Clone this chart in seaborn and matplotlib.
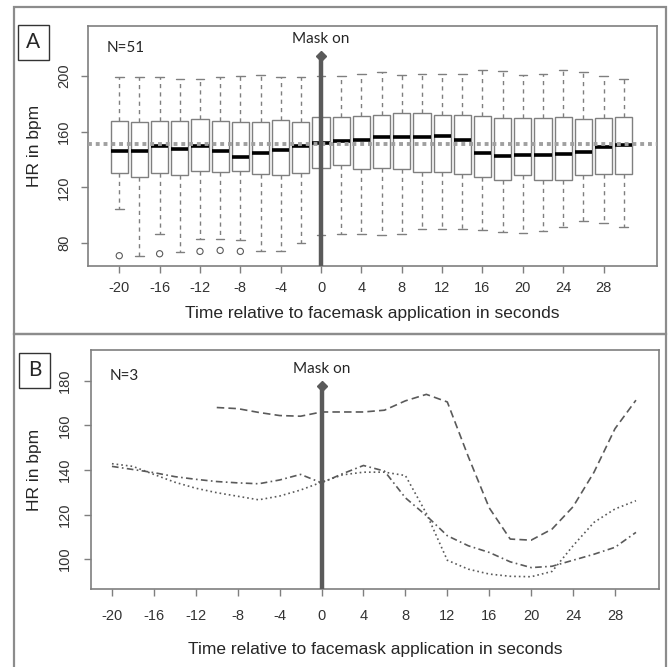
import numpy as np
import pandas as pd
import seaborn as sns
import matplotlib.pyplot as plt
from matplotlib.patches import Rectangle

# ---- panel A: HR box summaries every 2 s ----
times_a = list(range(-20, 31, 2))
whisk_hi = [199, 199, 199, 197.8, 197.8, 199, 199.8, 200.7, 199, 199.5, 200,
            200, 201.2, 203, 200.7, 201.7, 201.2, 201.4, 204.3, 203.6, 201,
            201.2, 204.3, 203, 200, 197.6]
q3 = [167.4, 167, 167.4, 168, 169, 168, 167.2, 166.7, 168.4, 167.2, 170.5,
      170.5, 171, 172, 173.4, 173.7, 172.2, 171.7, 171, 170, 170,
      170, 170.3, 169.3, 169.8, 170.8]
medians = [145.9, 145.9, 149.5, 147.3, 150, 146, 142, 144.7, 146.6, 149.5, 151.9,
           153.3, 154.3, 156.2, 156.4, 156.4, 156.7, 153.8, 144.4, 142.8, 143.2,
           143.2, 143.7, 145.2, 148.7, 150.2]
q1 = [130.3, 127.2, 130, 129.1, 131.5, 131, 132, 129.8, 128.9, 130.5, 133.9,
      135.8, 133.4, 133.9, 132.9, 131, 131.3, 129.6, 127.2, 125.5, 128.9,
      125.5, 125, 128.9, 129.3, 129.8]
whisk_lo = [104.4, 71, 86.5, 73.3, 82.9, 82.9, 82.4, 74.5, 74.5, 80.2, 86,
            86.5, 86.5, 85.8, 86.5, 89.8, 90.3, 90.3, 89.1, 87.7, 87,
            88.9, 91.5, 96, 94.4, 91.5]
outlier_t = [-20, -16, -12, -10, -8]
outlier_hr = [70.9, 72.3, 74, 74.7, 74]
overall_mean = 151.1

# ---- panel B: three individual traces ----
times_b = list(range(-20, 31, 2))
hr_dashed = [np.nan] * 5 + [168, 167.5, 165.8, 164.4, 164.1, 166, 166, 166, 166.8,
                            171, 173.9, 170.5, 146, 123, 109, 108.5, 113.5, 123.5,
                            139, 158.5, 171.3]
hr_dashdot = [141.6, 140.2, 138.8, 137, 135.8, 134.8, 134.2, 133.8, 135.5, 138,
              134.2, 138.3, 142, 139.5, 127.5, 119.5, 110.5, 106, 103, 98.8,
              96.2, 96.8, 99.5, 102.2, 105.3, 112]
hr_dotted = [142.8, 141.6, 138, 134.5, 131.8, 129.8, 128.2, 126.6, 128.3, 131,
             134.5, 137.8, 139, 139, 137.5, 120.5, 99.5, 95.5, 93.3, 92.3,
             92.1, 94.5, 106, 116.5, 122.5, 126.2]

mask_time = 0
mask_top_a = 214.4
mask_top_b = 177.6

W, H = 670, 667
sns.set_theme(style="white")
plt.rcParams['font.family'] = ['Liberation Sans', 'DejaVu Sans']
plt.rcParams['axes.unicode_minus'] = False

fig = plt.figure(figsize=(W / 100, H / 100), dpi=100)


def fbox(x0, y0, x1, y1):
    # pixel box (top-left origin) -> figure fraction rect
    return [x0 / W, 1 - y1 / H, (x1 - x0) / W, (y1 - y0) / H]


grey = '#7f7f7f'
dark = '#5a5a5a'
lab_font = ['Lato', 'DejaVu Sans']


def style_axes(ax, ypad, xpad):
    for s in ax.spines.values():
        s.set_color(grey)
        s.set_linewidth(1.2)
    ax.tick_params(axis='both', which='both', direction='out', length=5,
                   width=1, color=grey, labelsize=10.5, labelcolor='#333333',
                   left=True, bottom=True)
    ax.tick_params(axis='y', pad=ypad)
    ax.tick_params(axis='x', pad=xpad)
    for t in ax.get_yticklabels():
        t.set_rotation(90)
        t.set_va('center')
    ax.grid(False)


# ---------------- panel A ----------------
ax_a = fig.add_axes(fbox(88, 26, 657, 266))
rows = []
for t, lo, a, m, b, hi in zip(times_a, whisk_lo, q1, medians, q3, whisk_hi):
    for v in (lo, a, m, b, hi):
        rows.append({'time': t, 'hr': v})
df_a = pd.DataFrame(rows)

sns.boxplot(data=df_a, x='time', y='hr', native_scale=True, whis=(0, 100),
            width=0.85, color='white', linecolor=grey, linewidth=1,
            fliersize=0, ax=ax_a,
            medianprops=dict(color='black', linewidth=2.6),
            whiskerprops=dict(linestyle=(0, (3, 3)), color=grey),
            capprops=dict(color=grey))
sns.scatterplot(x=outlier_t, y=outlier_hr, marker='o', s=20, facecolor='none',
                edgecolor=dark, linewidth=0.8, ax=ax_a, zorder=3)
ax_a.axhline(overall_mean, color='#a0a0a0', lw=2.8, ls=(0, (1, 1)), zorder=4)

ax_a.set_xlim(-23.1, 33.3)
ax_a.set_ylim(63.5, 236)
ax_a.set_xticks(range(-20, 29, 4))
ax_a.set_yticks([80, 120, 160, 200])
ax_a.plot([mask_time, mask_time], [63.5, mask_top_a], color=dark, lw=3.2, zorder=6)
ax_a.plot([mask_time], [mask_top_a], marker='D', ms=5.5, color=dark, zorder=6)
ax_a.text(mask_time, 0.929, 'Mask on', transform=ax_a.get_xaxis_transform(),
          ha='center', va='baseline', fontsize=11, family=lab_font)
ax_a.text(0.033, 0.892, 'N=51', transform=ax_a.transAxes, ha='left',
          va='baseline', fontsize=11, family=lab_font)
ax_a.set_xlabel('Time relative to facemask application in seconds', fontsize=12.5)
ax_a.set_ylabel('HR in bpm', fontsize=12.5)
ax_a.xaxis.set_label_coords(0.5, -0.167)
ax_a.yaxis.set_label_coords(-0.081, 0.5)
style_axes(ax_a, ypad=7, xpad=5.5)

# ---------------- panel B ----------------
ax_b = fig.add_axes(fbox(91, 350, 659, 589))
df_b = pd.DataFrame({
    'time': times_b * 3,
    'hr': hr_dashed + hr_dashdot + hr_dotted,
    'subject': ['s1'] * len(times_b) + ['s2'] * len(times_b) + ['s3'] * len(times_b),
}).dropna()
sns.lineplot(data=df_b, x='time', y='hr', style='subject', units='subject',
             estimator=None, color=dark, linewidth=1.2, legend=False,
             dashes=[(4.5, 2.5), (4, 2, 1, 2), (1, 1.8)], ax=ax_b)

ax_b.set_xlim(-22.0, 32.2)
ax_b.set_ylim(86.6, 193.8)
ax_b.set_xticks(range(-20, 29, 4))
ax_b.set_yticks([100, 120, 140, 160, 180])
ax_b.plot([mask_time, mask_time], [86.6, mask_top_b], color=dark, lw=3.2, zorder=6)
ax_b.plot([mask_time], [mask_top_b], marker='D', ms=5.5, color=dark, zorder=6)
ax_b.text(mask_time, 0.903, 'Mask on', transform=ax_b.get_xaxis_transform(),
          ha='center', va='baseline', fontsize=11, family=lab_font)
ax_b.text(0.032, 0.874, 'N=3', transform=ax_b.transAxes, ha='left',
          va='baseline', fontsize=11, family=lab_font)
ax_b.set_xlabel('Time relative to facemask application in seconds', fontsize=12.5)
ax_b.set_ylabel('HR in bpm', fontsize=12.5)
ax_b.xaxis.set_label_coords(0.5, -0.223)
ax_b.yaxis.set_label_coords(-0.086, 0.5)
style_axes(ax_b, ypad=8.5, xpad=9.5)

# ---------------- panel frames and letters ----------------
fig.patches.append(Rectangle((14 / W, 1 - 334 / H), 652 / W, 327 / H,
                             transform=fig.transFigure, fill=False,
                             edgecolor='#8c8c8c', lw=1.6))
fig.patches.append(Rectangle((14 / W, 1 - 672 / H), 652 / W, 338 / H,
                             transform=fig.transFigure, fill=False,
                             edgecolor='#8c8c8c', lw=1.6))
for letter, (x0, y0) in (('A', (18, 25)), ('B', (19, 353))):
    fig.patches.append(Rectangle((x0 / W, 1 - (y0 + 35) / H), 31 / W, 35 / H,
                                 transform=fig.transFigure, fill=False,
                                 edgecolor='#333333', lw=1))
    fig.text((x0 + 15.5) / W, 1 - (y0 + 17.5) / H, letter, ha='center',
             va='center', fontsize=15, family=lab_font)

fig.savefig('out.png', dpi=100, facecolor='white')
